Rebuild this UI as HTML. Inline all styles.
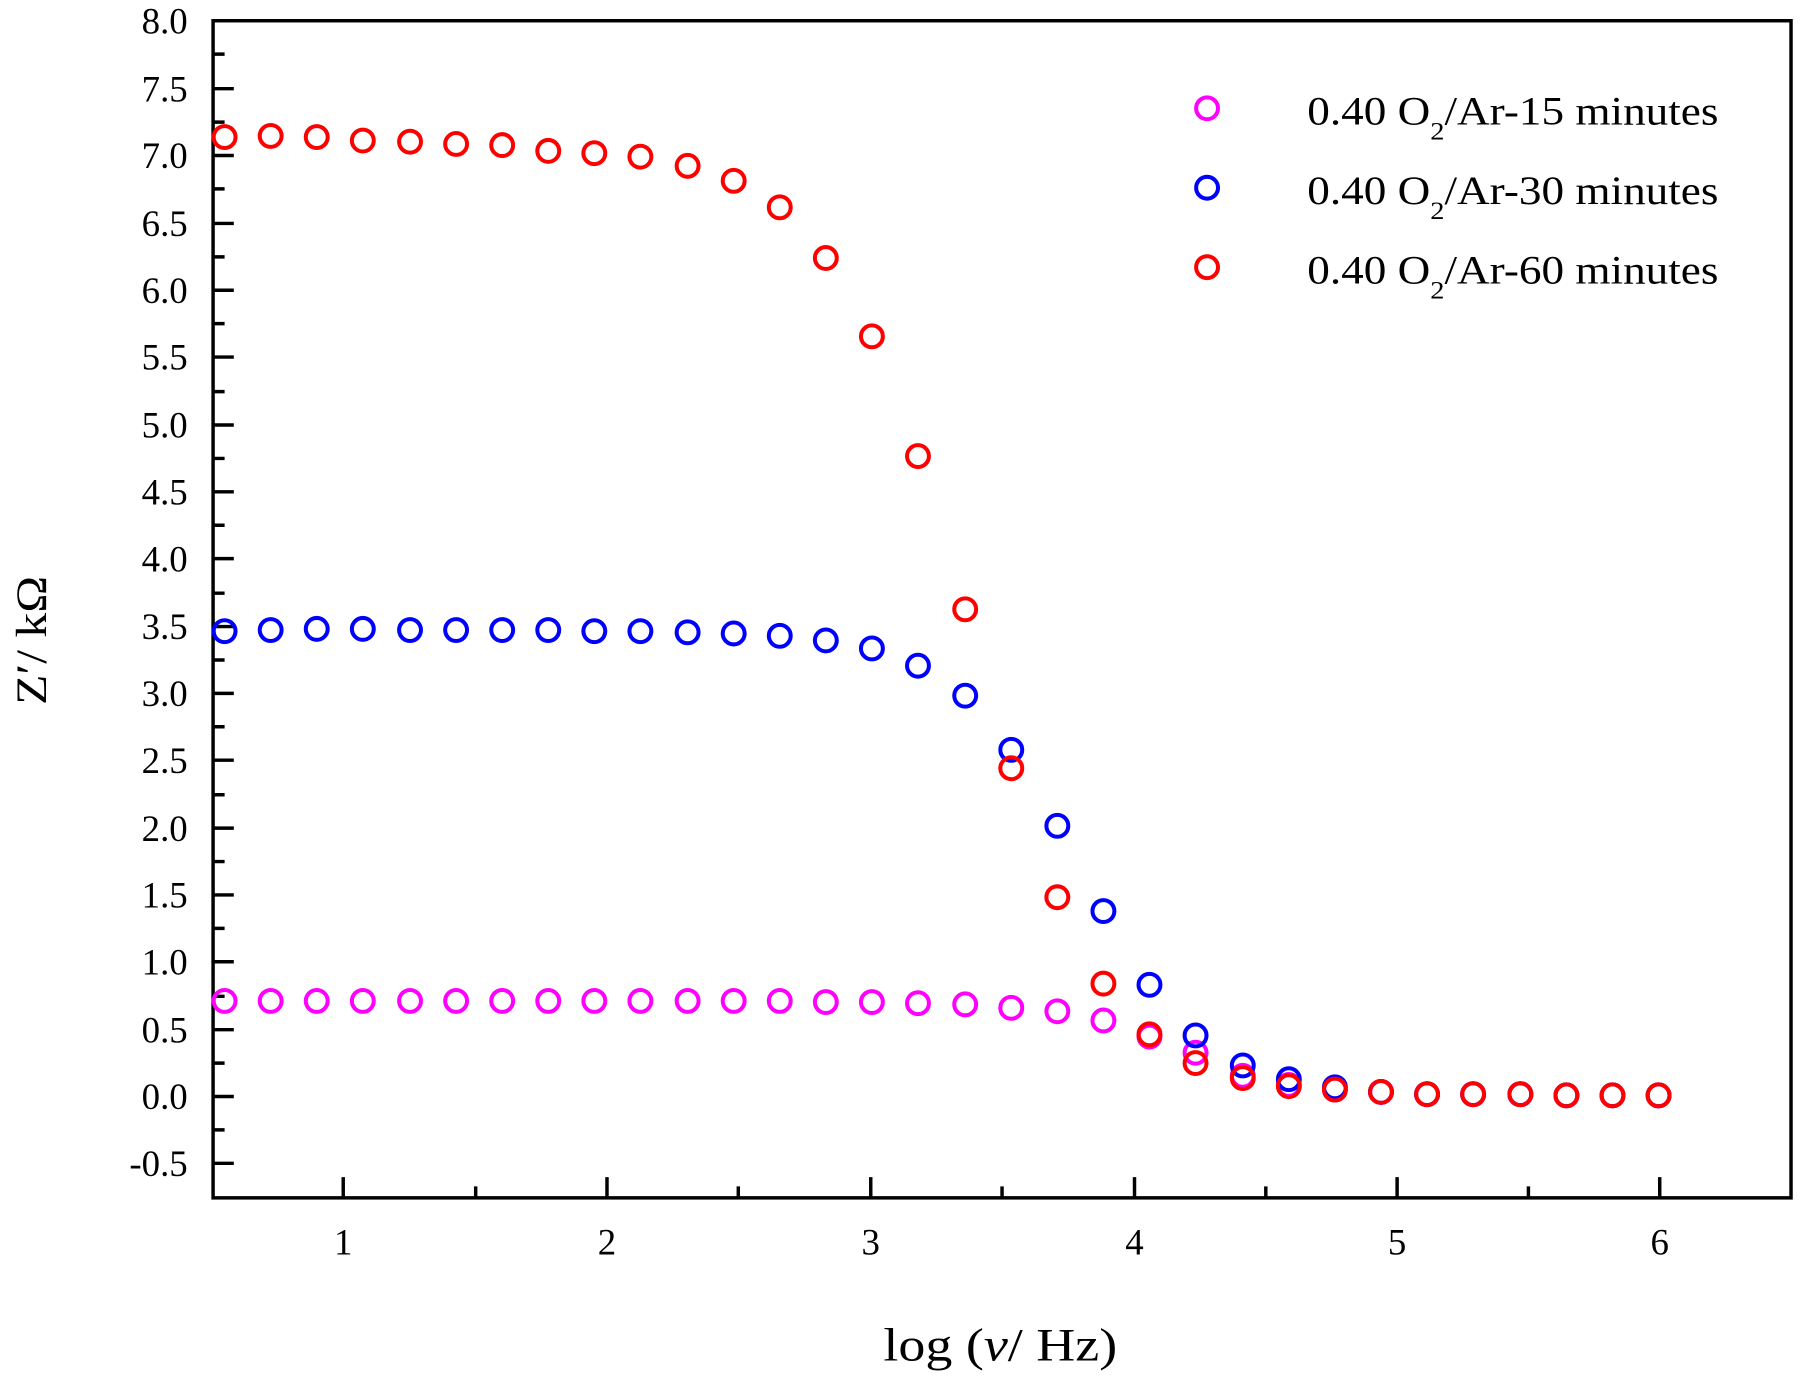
<!DOCTYPE html>
<html><head><meta charset="utf-8"><style>html,body{margin:0;padding:0;background:#fff}svg{display:block}</style></head>
<body>
<svg width="1806" height="1381" viewBox="0 0 1568 1199" xmlns="http://www.w3.org/2000/svg" font-family="Liberation Serif, serif">
<rect width="1568" height="1199" fill="#fff"/>
<rect x="185" y="18" width="1370" height="1022" fill="none" stroke="#000" stroke-width="3"/>
<g stroke="#000" stroke-width="3">
<path d="M185 77h18M185 135h18M185 194h18M185 252h18M185 310h18M185 369h18M185 427h18M185 485h18M185 544h18M185 602h18M185 660h18M185 719h18M185 777h18M185 835h18M185 894h18M185 952h18M185 1010h18"/>
<path d="M185 47h10M185 106h10M185 164h10M185 223h10M185 281h10M185 340h10M185 398h10M185 456h10M185 515h10M185 573h10M185 631h10M185 690h10M185 748h10M185 806h10M185 865h10M185 923h10M185 981h10"/>
<path d="M298 1040v-18M527 1040v-18M756 1040v-18M985 1040v-18M1213 1040v-18M1441 1040v-18"/>
<path d="M413 1040v-10M641 1040v-10M870 1040v-10M1099 1040v-10M1327 1040v-10"/>
</g>
<g font-size="32" text-anchor="end" fill="#000">
<text x="163" y="29">8.0</text><text x="163" y="88">7.5</text><text x="163" y="146">7.0</text><text x="163" y="205">6.5</text><text x="163" y="263">6.0</text><text x="163" y="321">5.5</text><text x="163" y="380">5.0</text><text x="163" y="438">4.5</text><text x="163" y="496">4.0</text><text x="163" y="555">3.5</text><text x="163" y="613">3.0</text><text x="163" y="671">2.5</text><text x="163" y="730">2.0</text><text x="163" y="788">1.5</text><text x="163" y="846">1.0</text><text x="163" y="905">0.5</text><text x="163" y="963">0.0</text><text x="163" y="1021">-0.5</text>
</g>
<g font-size="32" text-anchor="middle" fill="#000">
<text x="298" y="1089">1</text><text x="527" y="1089">2</text><text x="756" y="1089">3</text><text x="985" y="1089">4</text><text x="1213" y="1089">5</text><text x="1441" y="1089">6</text>
</g>
<text x="767" y="1181" font-size="40" textLength="203" lengthAdjust="spacingAndGlyphs">log (<tspan font-style="italic">ν</tspan>/ Hz)</text>
<text transform="translate(42,500) rotate(90)" font-size="38" textLength="0" style="display:none"></text>
<text transform="translate(40,612) rotate(-90)" font-size="38" textLength="112" lengthAdjust="spacingAndGlyphs">Z′/ kΩ</text>
<g fill="none" stroke-width="3.5">
<g stroke="#ff00ff">
<circle cx="195" cy="869" r="9.5"/><circle cx="235" cy="869" r="9.5"/><circle cx="275" cy="869" r="9.5"/><circle cx="315" cy="869" r="9.5"/><circle cx="356" cy="869" r="9.5"/><circle cx="396" cy="869" r="9.5"/><circle cx="436" cy="869" r="9.5"/><circle cx="476" cy="869" r="9.5"/><circle cx="516" cy="869" r="9.5"/><circle cx="556" cy="869" r="9.5"/><circle cx="597" cy="869" r="9.5"/><circle cx="637" cy="869" r="9.5"/><circle cx="677" cy="869" r="9.5"/><circle cx="717" cy="870" r="9.5"/><circle cx="757" cy="870" r="9.5"/><circle cx="797" cy="871" r="9.5"/><circle cx="838" cy="872" r="9.5"/><circle cx="878" cy="875" r="9.5"/><circle cx="918" cy="878" r="9.5"/><circle cx="958" cy="886" r="9.5"/><circle cx="998" cy="900" r="9.5"/><circle cx="1038" cy="914" r="9.5"/><circle cx="1079" cy="934" r="9.5"/><circle cx="1119" cy="942" r="9.5"/><circle cx="1159" cy="946" r="9.5"/><circle cx="1199" cy="948" r="9.5"/><circle cx="1239" cy="950" r="9.5"/><circle cx="1279" cy="950" r="9.5"/><circle cx="1320" cy="950" r="9.5"/><circle cx="1360" cy="951" r="9.5"/><circle cx="1400" cy="951" r="9.5"/><circle cx="1440" cy="951" r="9.5"/>
</g>
<g stroke="#0000ff">
<circle cx="195" cy="548" r="9.5"/><circle cx="235" cy="547" r="9.5"/><circle cx="275" cy="546" r="9.5"/><circle cx="315" cy="546" r="9.5"/><circle cx="356" cy="547" r="9.5"/><circle cx="396" cy="547" r="9.5"/><circle cx="436" cy="547" r="9.5"/><circle cx="476" cy="547" r="9.5"/><circle cx="516" cy="548" r="9.5"/><circle cx="556" cy="548" r="9.5"/><circle cx="597" cy="549" r="9.5"/><circle cx="637" cy="550" r="9.5"/><circle cx="677" cy="552" r="9.5"/><circle cx="717" cy="556" r="9.5"/><circle cx="757" cy="563" r="9.5"/><circle cx="797" cy="578" r="9.5"/><circle cx="838" cy="604" r="9.5"/><circle cx="878" cy="651" r="9.5"/><circle cx="918" cy="717" r="9.5"/><circle cx="958" cy="791" r="9.5"/><circle cx="998" cy="855" r="9.5"/><circle cx="1038" cy="899" r="9.5"/><circle cx="1079" cy="925" r="9.5"/><circle cx="1119" cy="937" r="9.5"/><circle cx="1159" cy="944" r="9.5"/><circle cx="1199" cy="948" r="9.5"/><circle cx="1239" cy="950" r="9.5"/><circle cx="1279" cy="950" r="9.5"/><circle cx="1320" cy="950" r="9.5"/><circle cx="1360" cy="951" r="9.5"/><circle cx="1400" cy="951" r="9.5"/><circle cx="1440" cy="951" r="9.5"/>
</g>
<g stroke="#ff0000">
<circle cx="195" cy="119" r="9.5"/><circle cx="235" cy="118" r="9.5"/><circle cx="275" cy="119" r="9.5"/><circle cx="315" cy="122" r="9.5"/><circle cx="356" cy="123" r="9.5"/><circle cx="396" cy="125" r="9.5"/><circle cx="436" cy="126" r="9.5"/><circle cx="476" cy="131" r="9.5"/><circle cx="516" cy="133" r="9.5"/><circle cx="556" cy="136" r="9.5"/><circle cx="597" cy="144" r="9.5"/><circle cx="637" cy="157" r="9.5"/><circle cx="677" cy="180" r="9.5"/><circle cx="717" cy="224" r="9.5"/><circle cx="757" cy="292" r="9.5"/><circle cx="797" cy="396" r="9.5"/><circle cx="838" cy="529" r="9.5"/><circle cx="878" cy="667" r="9.5"/><circle cx="918" cy="779" r="9.5"/><circle cx="958" cy="854" r="9.5"/><circle cx="998" cy="898" r="9.5"/><circle cx="1038" cy="923" r="9.5"/><circle cx="1079" cy="936" r="9.5"/><circle cx="1119" cy="943" r="9.5"/><circle cx="1159" cy="946" r="9.5"/><circle cx="1199" cy="948" r="9.5"/><circle cx="1239" cy="950" r="9.5"/><circle cx="1279" cy="950" r="9.5"/><circle cx="1320" cy="950" r="9.5"/><circle cx="1360" cy="951" r="9.5"/><circle cx="1400" cy="951" r="9.5"/><circle cx="1440" cy="951" r="9.5"/>
</g>
<circle cx="1048" cy="94" r="9.5" stroke="#ff00ff"/>
<circle cx="1048" cy="163" r="9.5" stroke="#0000ff"/>
<circle cx="1048" cy="232" r="9.5" stroke="#ff0000"/>
</g>
<g font-size="35" fill="#000">
<text x="1135" y="108" textLength="357" lengthAdjust="spacingAndGlyphs">0.40 O<tspan font-size="22" dy="13">2</tspan><tspan dy="-13">/Ar-15 minutes</tspan></text>
<text x="1135" y="177" textLength="357" lengthAdjust="spacingAndGlyphs">0.40 O<tspan font-size="22" dy="13">2</tspan><tspan dy="-13">/Ar-30 minutes</tspan></text>
<text x="1135" y="246" textLength="357" lengthAdjust="spacingAndGlyphs">0.40 O<tspan font-size="22" dy="13">2</tspan><tspan dy="-13">/Ar-60 minutes</tspan></text>
</g>
</svg>
</body></html>
